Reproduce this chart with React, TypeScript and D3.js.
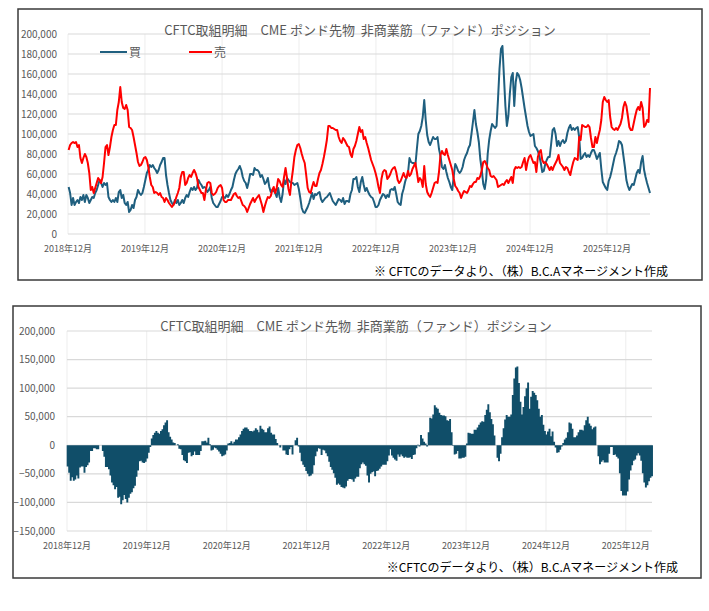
import * as d3 from 'd3';
import React from 'react';

// weekly CFTC report dates start here
const firstWeek = new Date(2018, 11, 4);

// 買 (non-commercial long), thousands of contracts
const longs: number[] = [
  47, 41, 29, 36, 29, 32, 34, 31, 37, 34,
  39, 32, 39, 36, 31, 34, 37, 36, 41, 44,
  49, 54, 51, 47, 51, 49, 51, 37, 34, 32,
  34, 32, 36, 32, 42, 44, 36, 39, 31, 29,
  32, 22, 24, 29, 26, 34, 37, 44, 41, 39,
  41, 47, 54, 61, 64, 69, 67, 69, 66, 64,
  61, 64, 69, 72, 76, 76, 59, 49, 41, 34,
  31, 29, 34, 31, 34, 29, 31, 34, 31, 36,
  39, 37, 42, 46, 44, 47, 44, 46, 54, 51,
  49, 46, 47, 46, 42, 44, 47,
  36, 31, 29, 27, 27, 30, 33, 37, 37, 36,
  39, 37, 40, 44, 47, 54, 60, 63, 65, 68,
  64, 57, 53, 51, 46, 52, 60, 60, 59, 66,
  64, 64, 62, 57, 59, 55, 50, 52, 56, 47,
  42, 44, 43, 41, 37, 46, 37, 32, 40, 54,
  50, 56, 54, 52, 51, 51, 49, 50, 51, 45,
  36, 26, 22, 21, 24, 27, 31, 36, 41, 35,
  40, 39, 41, 42, 35, 32, 34, 36, 37, 39,
  41, 37, 33, 31, 29, 32, 35, 34, 32, 36,
  30, 33, 33, 32, 40, 44, 55,
  55, 57, 47, 42, 52, 57, 49, 43, 46, 42,
  39, 37, 36, 32, 27, 27, 29, 34, 37, 40,
  39, 36, 39, 37, 44, 45, 44, 47, 40, 32,
  30, 29, 40, 45, 52, 57, 61, 76, 72, 71,
  71, 69, 85, 100, 103, 108, 117, 134, 114, 99,
  92, 89, 93, 97, 95, 95, 97, 85, 78, 67,
  65, 69, 62, 56, 52, 47, 44, 58, 70, 67,
  63, 61, 63, 67, 74, 78, 81, 86, 89, 100,
  112, 124, 110, 102, 92, 75, 64, 50, 45, 55,
  80, 94, 103, 110, 108, 106, 108, 135, 165, 185,
  188,
  158, 128, 108, 118, 140, 157, 161, 128, 152, 161,
  159, 154, 146, 136, 126, 117, 108, 102, 98, 99,
  100, 88, 86, 83, 78, 71, 62, 63, 70, 74,
  77, 77, 90, 104, 106, 100, 88, 93, 88, 92,
  94, 91, 93, 101, 106, 109, 104, 106, 104, 106,
  107, 97, 75, 76, 79, 81, 77, 79, 77, 81,
  84, 84, 80, 75, 78, 81, 65, 52, 49, 46,
  44, 53, 57, 63, 70, 77, 81, 86, 93, 92,
  89, 78, 67, 54, 48, 44, 47, 50, 49, 55,
  61, 64, 61, 72, 78, 64, 57, 51, 46, 41,
];

// 売 (non-commercial short), thousands of contracts
const shorts: number[] = [
  84, 89, 91, 92, 91, 92, 87, 89, 76, 71,
  76, 80, 77, 71, 61, 44, 47, 41, 46, 51,
  56, 54, 51, 57, 71, 87, 89, 79, 87, 97,
  104, 109, 109, 124, 132, 147, 132, 126, 125, 129,
  124, 107, 106, 104, 97, 89, 81, 72, 68, 69,
  72, 76, 77, 74, 67, 57, 49, 47, 41, 42,
  41, 39, 41, 37, 36, 32, 36, 34, 31, 29,
  27, 29, 32, 37, 41, 46, 57, 62, 62, 49,
  51, 56, 59, 57, 61, 64, 61, 56, 47, 44,
  41, 41, 34, 44, 51, 52, 51,
  41, 39, 40, 42, 46, 48, 49, 46, 34, 32,
  32, 34, 34, 34, 37, 40, 41, 38, 36, 37,
  33, 29, 28, 26, 22, 26, 30, 33, 36, 32,
  35, 37, 39, 34, 29, 22, 28, 33, 37, 36,
  38, 44, 47, 41, 46, 55, 53, 49, 47, 57,
  66, 56, 45, 39, 53, 64, 77, 84, 89, 90,
  86, 80, 75, 71, 59, 46, 42, 41, 47, 52,
  48, 48, 55, 61, 64, 70, 77, 85, 94, 108,
  108, 106, 106, 105, 104, 104, 97, 93, 91, 96,
  94, 91, 88, 87, 80, 77, 85,
  88, 93, 100, 107, 102, 104, 95, 97, 91, 86,
  80, 74, 70, 66, 61, 55, 47, 41, 55, 62,
  64, 63, 55, 57, 60, 64, 66, 67, 62, 54,
  51, 53, 57, 61, 57, 56, 63, 58, 60, 65,
  68, 71, 62, 52, 56, 54, 47, 68, 50, 42,
  39, 37, 41, 46, 51, 52, 51, 62, 79, 83,
  80, 79, 85, 79, 74, 69, 64, 55, 48, 46,
  43, 41, 36, 40, 43, 42, 41, 44, 48, 47,
  50, 52, 52, 56, 55, 58, 64, 72, 73, 70,
  66, 64, 58, 57, 58, 56, 54, 47, 48, 49,
  50,
  49, 52, 54, 51, 54, 57, 51, 64, 67, 66,
  67, 66, 67, 72, 76, 64, 72, 77, 79, 75,
  71, 72, 62, 77, 82, 84, 74, 71, 72, 70,
  67, 64, 67, 64, 68, 71, 74, 79, 71, 69,
  67, 64, 67, 66, 62, 59, 66, 72, 76, 75,
  74, 97, 94, 109, 108, 107, 107, 109, 107, 96,
  87, 87, 97, 91, 98, 104, 114, 132, 137, 134,
  132, 134, 117, 107, 105, 104, 106, 104, 107, 110,
  116, 127, 132, 128, 118, 107, 104, 104, 111, 118,
  124, 127, 124, 132, 126, 107, 109, 114, 112, 146,
];

// the net chart stops a few weeks earlier than the long/short chart
const netWeekCount = 383;

const tickYears = [2018, 2019, 2020, 2021, 2022, 2023, 2024, 2025];
const positionTicks = [0, 20000, 40000, 60000, 80000, 100000, 120000, 140000, 160000, 180000, 200000];
const netTicks = [-150000, -100000, -50000, 0, 50000, 100000, 150000, 200000];

const titleText = 'CFTC取組明細　CME ポンド先物 \u00a0非商業筋（ファンド）ポジション';
const noteText = '※ CFTCのデータより、（株）B.C.Aマネージメント作成';

const FONT = '"Noto Sans CJK JP", "Noto Sans", sans-serif';
const GRAY = '#595959';
const BLUE = '#1f5f7f';
const RED = '#ff0000';
const BAR = '#104e69';

const weekDate = (i: number) => d3.timeDay.offset(firstWeek, i * 7);
const fmt = d3.format(',');
const tickLabel = (y: number) => `${y}年12月`;

function PositionChart() {
  const left = 68, right = 650, top = 34, bottom = 234;
  const dates = longs.map((_, i) => weekDate(i));
  const x = d3.scaleTime().domain([new Date(2018, 11, 1), dates[dates.length - 1]]).range([left, right]);
  const y = d3.scaleLinear().domain([0, 200000]).range([bottom, top]);

  const line = d3
    .line<number>()
    .x((_, i) => x(dates[i]))
    .y((v) => y(v * 1000));

  return (
    <g>
      <rect x={18} y={9} width={684} height={271} fill="#fff" stroke="#3a3a3a" strokeWidth={1.5} />
      {tickYears.map((yr) => (
        <line key={'v' + yr} x1={x(new Date(yr, 11, 1))} x2={x(new Date(yr, 11, 1))} y1={top} y2={bottom} stroke="#ededed" />
      ))}
      {positionTicks.map((t) => (
        <g key={t}>
          <line x1={left} x2={right} y1={y(t)} y2={y(t)} stroke="#d9d9d9" strokeWidth={1.2} />
          <text x={57} y={y(t)} dy="0.35em" textAnchor="end" fontSize={10} fill={GRAY}>
            {fmt(t)}
          </text>
        </g>
      ))}
      {tickYears.map((yr) => (
        <text key={'l' + yr} x={x(new Date(yr, 11, 1))} y={252} textAnchor="middle" fontSize={9} fill={GRAY}>
          {tickLabel(yr)}
        </text>
      ))}
      <path d={line(longs) ?? ''} fill="none" stroke={BLUE} strokeWidth={2} strokeLinejoin="round" />
      <path d={line(shorts) ?? ''} fill="none" stroke={RED} strokeWidth={2} strokeLinejoin="round" />
      <text x={360} y={35} textAnchor="middle" fontSize={13} fill={GRAY} style={{ whiteSpace: 'pre' }}>
        {titleText}
      </text>
      <line x1={100} x2={127} y1={52} y2={52} stroke={BLUE} strokeWidth={2} />
      <text x={129} y={56.5} fontSize={12} fill={GRAY}>買</text>
      <line x1={189} x2={212} y1={52} y2={52} stroke={RED} strokeWidth={2} />
      <text x={214} y={56.5} fontSize={12} fill={GRAY}>売</text>
      <text x={668} y={276} textAnchor="end" fontSize={12} fill="#000">
        {noteText}
      </text>
    </g>
  );
}

function NetChart() {
  const left = 67, right = 652, top = 331, bottom = 531;
  const net = longs.slice(0, netWeekCount).map((v, i) => (v - shorts[i]) * 1000);
  const dates = net.map((_, i) => weekDate(i));
  const x = d3.scaleTime().domain([new Date(2018, 11, 1), dates[dates.length - 1]]).range([left, right]);
  const y = d3.scaleLinear().domain([-150000, 200000]).range([bottom, top]);
  const step = x(dates[1]) - x(dates[0]);
  const bw = step + 0.4;

  // all bars in one path so neighbouring bars don't leave anti-aliasing seams
  const bars = d3.path();
  net.forEach((v, i) => {
    bars.rect(x(dates[i]) - bw / 2, y(Math.max(0, v)), bw, Math.abs(y(v) - y(0)));
  });

  return (
    <g>
      <rect x={13} y={306} width={688} height={272} fill="#fff" stroke="#3a3a3a" strokeWidth={1.5} />
      {tickYears.map((yr) => (
        <line key={'v' + yr} x1={x(new Date(yr, 11, 1))} x2={x(new Date(yr, 11, 1))} y1={top} y2={bottom} stroke="#ededed" />
      ))}
      {netTicks.map((t) => (
        <g key={t}>
          <line x1={left} x2={right} y1={y(t)} y2={y(t)} stroke="#d9d9d9" strokeWidth={1.2} />
          <text x={55} y={y(t)} dy="0.35em" textAnchor="end" fontSize={10} fill={GRAY}>
            {fmt(t)}
          </text>
        </g>
      ))}
      {tickYears.map((yr) => (
        <text key={'l' + yr} x={x(new Date(yr, 11, 1))} y={549} textAnchor="middle" fontSize={9} fill={GRAY}>
          {tickLabel(yr)}
        </text>
      ))}
      <path d={bars.toString()} fill={BAR} fillRule="nonzero" />
      <text x={356} y={331} textAnchor="middle" fontSize={13} fill={GRAY} style={{ whiteSpace: 'pre' }}>
        {titleText}
      </text>
      <text x={678} y={572} textAnchor="end" fontSize={12} fill="#000">
        {noteText.replace('※ ', '※')}
      </text>
    </g>
  );
}

export default function App() {
  return (
    <div style={{ position: 'absolute', left: 0, top: 0 }}>
      <svg width={709} height={611} viewBox="0 0 709 611" style={{ display: 'block', fontFamily: FONT }}>
        <rect width={709} height={611} fill="#fff" />
        <PositionChart />
        <NetChart />
      </svg>
    </div>
  );
}
